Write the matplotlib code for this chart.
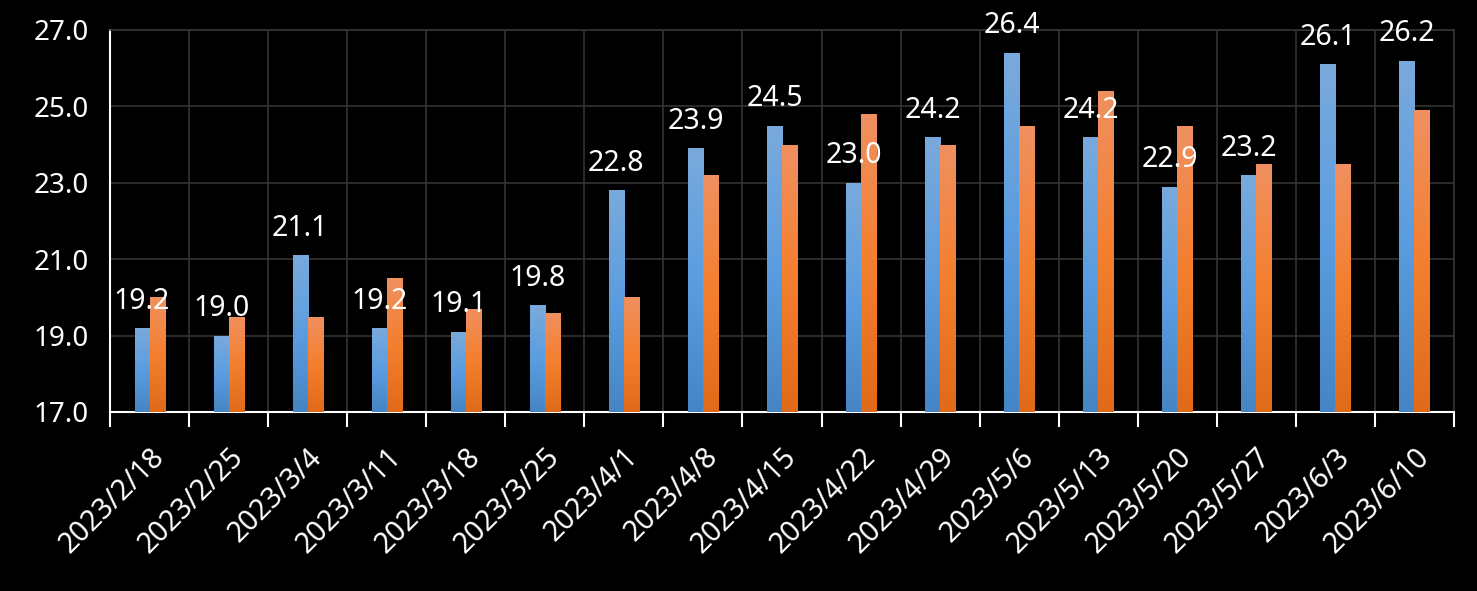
import matplotlib
matplotlib.use("Agg")
import matplotlib.pyplot as plt
import numpy as np
from matplotlib.colors import LinearSegmentedColormap

categories = ["2023/2/18", "2023/2/25", "2023/3/4", "2023/3/11", "2023/3/18", "2023/3/25",
              "2023/4/1", "2023/4/8", "2023/4/15", "2023/4/22", "2023/4/29", "2023/5/6",
              "2023/5/13", "2023/5/20", "2023/5/27", "2023/6/3", "2023/6/10"]
series_blue = [19.2, 19.0, 21.1, 19.2, 19.1, 19.8, 22.8, 23.9, 24.5, 23.0, 24.2, 26.4,
               24.2, 22.9, 23.2, 26.1, 26.2]
series_orange = [20.0, 19.5, 19.5, 20.5, 19.7, 19.6, 20.0, 23.2, 24.0, 24.8, 24.0, 24.5,
                 25.4, 24.5, 23.5, 23.5, 24.9]
yticks = [17, 19, 21, 23, 25, 27]

plt.rcParams['font.family'] = ['Noto Sans', 'DejaVu Sans']

fig = plt.figure(figsize=(14.77, 5.91), dpi=100, facecolor='black')
ax = fig.add_axes([110/1477, 1-412/591, (1454-110)/1477, (412-30)/591])
ax.set_facecolor('black')

n = len(categories)
x = np.arange(n)
w = 0.19

blue_cmap = LinearSegmentedColormap.from_list('b', ['#7aaadc', '#5b9de0', '#4585c5'])
orange_cmap = LinearSegmentedColormap.from_list('o', ['#f09060', '#f47f2e', '#e06a18'])
grad = np.linspace(0, 1, 256).reshape(-1, 1)

def gradient_bars(xs, vals, cmap):
    bars = ax.bar(xs, np.array(vals) - 17, width=w, bottom=17, color='none', edgecolor='none', zorder=3)
    for b in bars:
        x0, y0 = b.get_x(), b.get_y()
        x1, y1 = x0 + b.get_width(), y0 + b.get_height()
        im = ax.imshow(grad, extent=[x0, x1, y0, y1], aspect='auto', cmap=cmap,
                       origin='upper', zorder=3)
        im.set_clip_path(b)
    return bars

gradient_bars(x - w/2, series_blue, blue_cmap)
gradient_bars(x + w/2, series_orange, orange_cmap)

for xi, v in zip(x, series_blue):
    ax.annotate(f"{v:.1f}", (xi - w/2, v), xytext=(0, 14), textcoords='offset points',
                ha='center', va='baseline', color='white', fontsize=20.5, zorder=5)

ax.set_xlim(-0.5, n - 0.5)
ax.set_ylim(17, 27)
ax.set_yticks(yticks)
ax.set_yticklabels([f"{t:.1f}" for t in yticks])
ax.tick_params(axis='y', length=0, pad=15, labelcolor='white', labelsize=20)

ax.set_xticks(x)
ax.set_xticklabels(categories, rotation=45, ha='right', rotation_mode='anchor')
ax.tick_params(axis='x', which='major', length=0, pad=22, labelcolor='white', labelsize=20.5)
ax.set_xticks(np.arange(-0.5, n, 1), minor=True)
ax.tick_params(axis='x', which='minor', length=11, width=1.5, color='white', direction='out')

ax.grid(True, axis='y', which='major', color='#333333', linewidth=1.2, zorder=0)
ax.grid(True, axis='x', which='minor', color='#333333', linewidth=1.2, zorder=0)
ax.set_axisbelow(True)

for s in ['top', 'right']:
    ax.spines[s].set_color('#333333')
    ax.spines[s].set_linewidth(1.2)
for s in ['left', 'bottom']:
    ax.spines[s].set_color('white')
    ax.spines[s].set_linewidth(1.5)

fig.savefig('out.png', dpi=100, facecolor='black')
